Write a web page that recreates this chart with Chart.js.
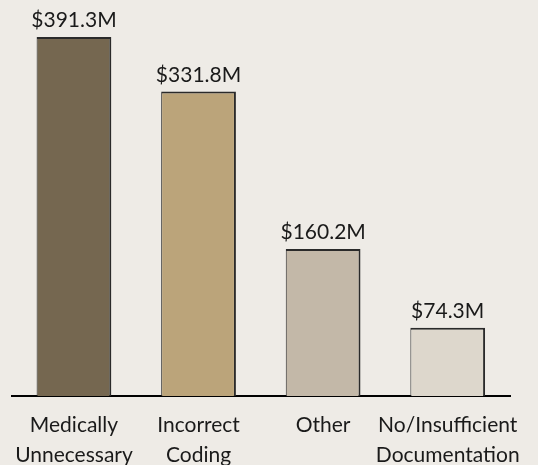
<!DOCTYPE html>
<html>
<head>
<meta charset="utf-8">
<script src="https://cdn.jsdelivr.net/npm/chart.js@4"></script>
<style>
  html, body { margin: 0; padding: 0; background: #EEEBE6; }
  #wrap { width: 538px; height: 465px; }
</style>
</head>
<body>
<div id="wrap"><canvas id="chart1" width="538" height="465"></canvas></div>
<script>
const categories = [['Medically', 'Unnecessary'], ['Incorrect', 'Coding'], 'Other', ['No/Insufficient', 'Documentation']];
const amounts = [391.3, 331.8, 160.2, 74.3];
const amountLabels = ['$391.3M', '$331.8M', '$160.2M', '$74.3M'];
const barColors = ['#756750', '#BBA47A', '#C3B8A8', '#DDD7CC'];

const FONT = 'Lato, "Liberation Sans", sans-serif';

// writes the dollar amount above each bar
const valueLabels = {
  id: 'valueLabels',
  afterDatasetsDraw(chart) {
    const ctx = chart.ctx;
    const meta = chart.getDatasetMeta(0);
    ctx.save();
    ctx.font = '21px ' + FONT;
    ctx.fillStyle = '#1a1a1a';
    ctx.textAlign = 'center';
    ctx.textBaseline = 'alphabetic';
    meta.data.forEach((bar, i) => {
      ctx.fillText(amountLabels[i], bar.x, bar.y - 10);
    });
    ctx.restore();
  }
};

const chart1 = new Chart(document.getElementById('chart1'), {
  type: 'bar',
  data: {
    labels: categories,
    datasets: [{
      label: 'Amount',
      data: amounts,
      backgroundColor: barColors,
      borderColor: '#2a2a2a',
      borderWidth: { top: 2, left: 1, right: 2, bottom: 0 },
      borderSkipped: 'bottom',
      categoryPercentage: 1,
      barPercentage: 0.6
    }]
  },
  plugins: [valueLabels],
  options: {
    responsive: false,
    animation: false,
    layout: {
      padding: { top: 29, left: 9, right: 28, bottom: 0 }
    },
    plugins: {
      legend: { display: false },
      tooltip: { enabled: false }
    },
    scales: {
      y: {
        display: false,
        min: 0,
        max: 400
      },
      x: {
        grid: { display: false, drawTicks: false },
        border: { display: true, color: '#000', width: 2 },
        ticks: {
          color: '#1a1a1a',
          padding: 14,
          maxRotation: 0,
          autoSkip: false,
          font: { family: FONT, size: 21, lineHeight: 1.45 }
        },
        afterFit(scale) {
          scale.height = 69;
        }
      }
    }
  }
});
</script>
</body>
</html>
